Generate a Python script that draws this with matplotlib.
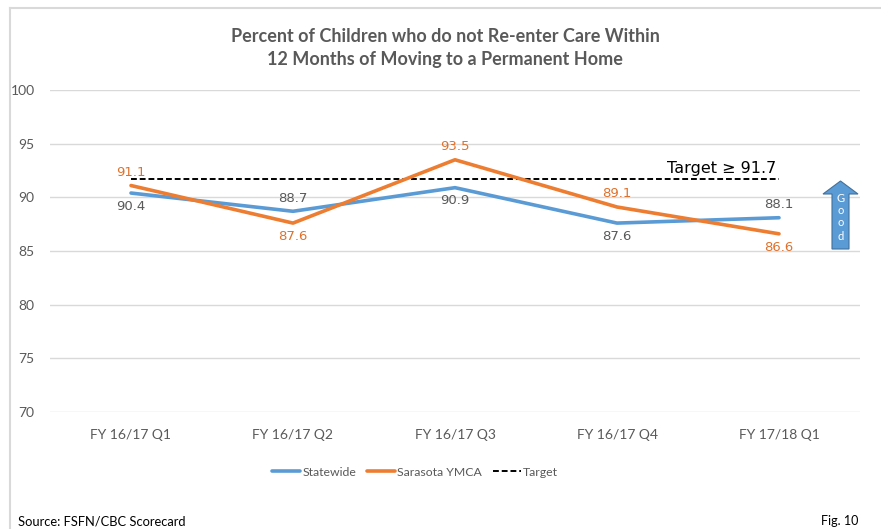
import matplotlib.pyplot as plt
from matplotlib.patches import Polygon
from matplotlib.lines import Line2D

quarters = ["FY 16/17 Q1", "FY 16/17 Q2", "FY 16/17 Q3", "FY 16/17 Q4", "FY 17/18 Q1"]
statewide = [90.4, 88.7, 90.9, 87.6, 88.1]
sarasota = [91.1, 87.6, 93.5, 89.1, 86.6]
target = 91.7

# label placement per point: +1 above, -1 below
statewide_pos = [-1, 1, -1, -1, 1]
sarasota_pos = [1, -1, 1, 1, -1]

BLUE = "#5B9BD5"
ORANGE = "#ED7D31"
GRAY = "#595959"
FONT = "Lato"

W, H = 881, 529
fig = plt.figure(figsize=(W / 100, H / 100), dpi=100)


def fx(px):
    return px / W


def fy(py):
    return 1 - py / H


# light frame along the top and left edge
fig.add_artist(Line2D([fx(10), fx(10)], [fy(8), 0], color="#D9D9D9", lw=1.5))
fig.add_artist(Line2D([fx(10), 1], [fy(8), fy(8)], color="#D9D9D9", lw=1.5))

ax = fig.add_axes([fx(50), fy(412), fx(860) - fx(50), fy(90) - fy(412)])
x = list(range(len(quarters)))

ax.plot(x, statewide, color=BLUE, lw=2.6, solid_capstyle="round", label="Statewide", zorder=3)
ax.plot(x, sarasota, color=ORANGE, lw=2.6, solid_capstyle="round", label="Sarasota YMCA", zorder=4)
ax.plot([x[0], x[-1]], [target, target], color="black", lw=1.4, ls=(0, (3, 1.5)),
        label="Target", zorder=2)

for xi, v, p in zip(x, statewide, statewide_pos):
    ax.annotate(f"{v:.1f}", (xi, v), xytext=(0, 9.5 * p), textcoords="offset points",
                ha="center", va="center", color=GRAY, fontsize=9.5, family="DejaVu Sans")
for xi, v, p in zip(x, sarasota, sarasota_pos):
    ax.annotate(f"{v:.1f}", (xi, v), xytext=(0, 9.5 * p), textcoords="offset points",
                ha="center", va="center", color="#E0712B", fontsize=9.5, family="DejaVu Sans")

ax.text(x[-1] - 0.02, target + 0.25, "Target \u2265 91.7", ha="right", va="bottom",
        fontsize=11.5, color="black", family="DejaVu Sans")

ax.set_xlim(-0.5, 4.5)
ax.set_ylim(70, 100)
ax.set_yticks(range(70, 101, 5))
ax.set_xticks(x)
ax.set_xticklabels(quarters)
ax.grid(axis="y", color="#D9D9D9", lw=1)
ax.set_axisbelow(True)
for s in ax.spines.values():
    s.set_visible(False)
ax.tick_params(length=0, labelsize=10, colors=GRAY)
ax.tick_params(axis="x", pad=12)
ax.tick_params(axis="y", pad=11)
for lab in ax.get_xticklabels() + ax.get_yticklabels():
    lab.set_family(FONT)

fig.text(fx(445), fy(37), "Percent of Children who do not Re-enter Care Within",
         ha="center", va="center", fontsize=13, fontweight="bold", color=GRAY, family=FONT)
fig.text(fx(445), fy(59), "12 Months of Moving to a Permanent Home",
         ha="center", va="center", fontsize=13, fontweight="bold", color=GRAY, family=FONT)

leg = fig.legend(loc="center", bbox_to_anchor=(fx(415), fy(472)), ncol=3, frameon=False,
                 handlelength=2.3, handletextpad=0.15, columnspacing=0.9,
                 prop={"family": FONT, "size": 8.8})
for t in leg.get_texts():
    t.set_color(GRAY)

fig.text(fx(18), fy(521), "Source: FSFN/CBC Scorecard", ha="left", va="center",
         fontsize=9.3, color="black", family=FONT)
fig.text(fx(858), fy(521), "Fig. 10", ha="right", va="center",
         fontsize=9, color="black", family=FONT)

# "Good" arrow pointing up
arr = fig.add_axes([fx(822), fy(250), fx(859) - fx(822), fy(180) - fy(250)])
arr.set_xlim(822, 859)
arr.set_ylim(250, 180)
arr.axis("off")
arr.add_patch(Polygon([(832, 249), (832, 194), (823, 194), (840.5, 181), (858, 194),
                       (849, 194), (849, 249)], closed=True, facecolor=BLUE,
                      edgecolor="#41719C", lw=0.8))
for ch, yy in zip("Good", [198, 211, 223, 236]):
    arr.text(840.5, yy, ch, ha="center", va="center", color="white", fontsize=8, family=FONT)

fig.savefig("out.png", dpi=100)
